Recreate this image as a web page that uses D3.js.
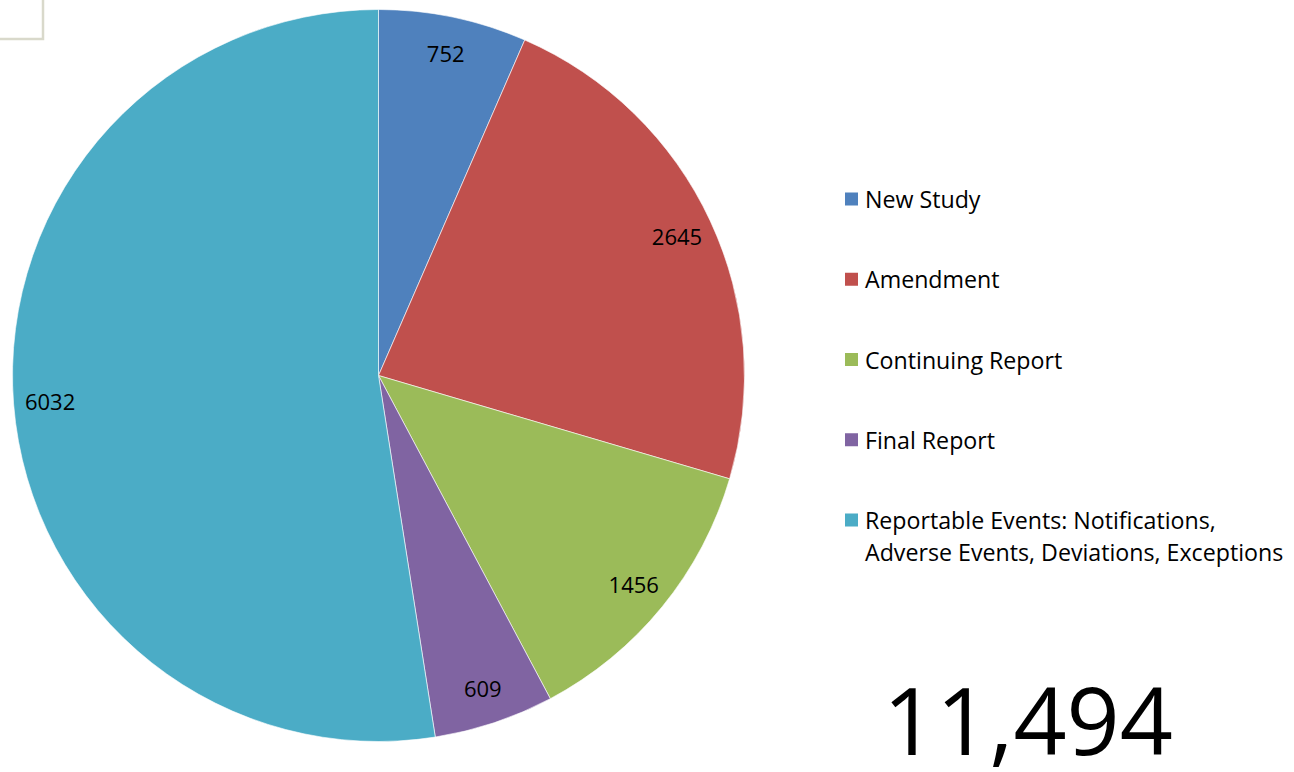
<!DOCTYPE html>
<html>
<head>
<meta charset="utf-8">
<script src="https://cdn.jsdelivr.net/npm/d3@7/dist/d3.min.js"></script>
<style>
  html, body { margin: 0; padding: 0; background: #fff; }
  svg { display: block; }
</style>
</head>
<body>
<svg id="chart" width="1294" height="772"></svg>
<script>
// Submission counts by type
const categories = [
  "New Study",
  "Amendment",
  "Continuing Report",
  "Final Report",
  "Reportable Events: Notifications, Adverse Events, Deviations, Exceptions"
];
const legendLines = [
  ["New Study"],
  ["Amendment"],
  ["Continuing Report"],
  ["Final Report"],
  ["Reportable Events: Notifications,", "Adverse Events, Deviations, Exceptions"]
];
const values = [752, 2645, 1456, 609, 6032];
const colors = ["#4F81BD", "#C0504D", "#9BBB59", "#8064A2", "#4BACC6"];
const totalLabel = "11,494";

const font = "'Open Sans', 'Noto Sans', sans-serif";
const svg = d3.select("#chart");

// Decorative corner frame
svg.append("path")
  .attr("d", "M0,39 L43,39 L43,0")
  .attr("fill", "none")
  .attr("stroke", "#D9D9CB")
  .attr("stroke-width", 2.5);

const cx = 378.5, cy = 375.5, r = 366;
const color = d3.scaleOrdinal().domain(categories).range(colors);

const pie = d3.pie().sort(null).value(d => d.value);
const arcs = pie(categories.map((c, i) => ({ name: c, value: values[i] })));
const arc = d3.arc().innerRadius(0).outerRadius(r);
const labelArc = d3.arc().innerRadius(r * 0.9).outerRadius(r * 0.9);

const g = svg.append("g").attr("transform", `translate(${cx},${cy})`);

g.selectAll("path.slice")
  .data(arcs)
  .join("path")
  .attr("class", "slice")
  .attr("d", arc)
  .attr("fill", d => color(d.data.name))
  .attr("stroke", "#ffffff")
  .attr("stroke-opacity", 0.6)
  .attr("stroke-width", 1);

g.selectAll("text.value")
  .data(arcs)
  .join("text")
  .attr("class", "value")
  .attr("transform", d => `translate(${labelArc.centroid(d)})`)
  .attr("text-anchor", "middle")
  .attr("dominant-baseline", "central")
  .attr("font-family", font)
  .attr("font-size", 22)
  .attr("fill", "#000")
  .text(d => d.data.value);

// Legend
const legendY = d3.scalePoint().domain(categories).range([199, 520]);
const legend = svg.append("g");
const items = legend.selectAll("g.item")
  .data(categories)
  .join("g")
  .attr("class", "item")
  .attr("transform", d => `translate(845,${legendY(d)})`);

items.append("rect")
  .attr("x", 0).attr("y", -6.5)
  .attr("width", 13).attr("height", 13)
  .attr("fill", d => color(d));

items.append("text")
  .attr("x", 20)
  .attr("font-family", font)
  .attr("font-size", 23.2)
  .attr("fill", "#000")
  .selectAll("tspan")
  .data((d, i) => legendLines[i])
  .join("tspan")
  .attr("x", 20)
  .attr("y", (d, j) => j * 32)
  .attr("dominant-baseline", "central")
  .text(d => d);

// Grand total
svg.append("text")
  .attr("x", 1028)
  .attr("y", 755)
  .attr("text-anchor", "middle")
  .attr("font-family", font)
  .attr("font-size", 93)
  .attr("fill", "#000")
  .text(totalLabel);
</script>
</body>
</html>
